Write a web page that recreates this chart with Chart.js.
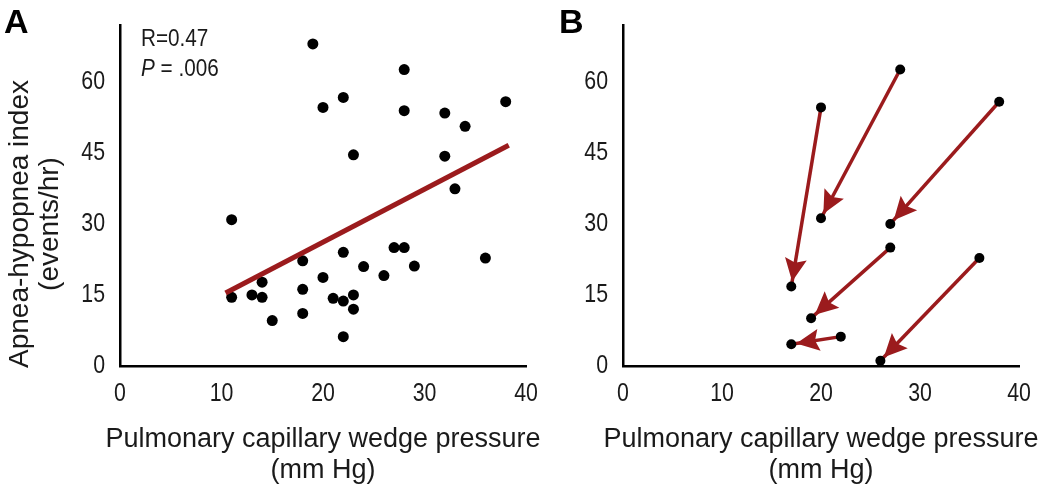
<!doctype html>
<html lang="en">
<head>
  <meta charset="utf-8">
  <title>PCWP vs AHI</title>
  <style type="text/css">
    body {
      margin: 0;
      background: #fff;
    }
    .panel {
      position: absolute;
      top: 0;
      height: 490px;
    }
    #panelA { left: 0; width: 560px; }
    #panelB { left: 525px; width: 525px; }
  </style>
</head>
<body>
  <div id="panelA" class="panel"><canvas id="chart_a" width="560" height="490"></canvas></div>
  <div id="panelB" class="panel"><canvas id="chart_b" width="525" height="490"></canvas></div>

  <script src="https://cdn.jsdelivr.net/npm/chart.js"></script>
  <script>
    // panel A: PCWP (mm Hg) vs apnea-hypopnea index (events/hr)
    const pcwp_a = [19, 28, 22, 20, 28, 38, 32, 34, 23, 32, 33, 11, 36, 22, 27, 28, 18, 24, 29, 26, 20, 14, 18, 11, 13, 14, 21, 22, 23, 23, 18, 15, 22];
    const ahi_a = [68, 62.6, 56.7, 54.6, 53.9, 55.8, 53.4, 50.6, 44.6, 44.3, 37.4, 30.9, 22.8, 24, 25, 25, 22.2, 21, 21.1, 19.1, 18.7, 17.7, 16.2, 14.5, 15, 14.5, 14.3, 13.7, 15, 12, 11.1, 9.6, 6.2];

    // regression line end points
    const fit_x = [10.4, 38.3];
    const fit_y = [15.4, 46.6];

    // panel B: before -> after treatment
    const from_x = [20, 28, 38, 27, 36, 22];
    const from_y = [54.6, 62.6, 55.8, 25, 22.8, 6.2];
    const to_x = [17, 20, 27, 19, 26, 17];
    const to_y = [16.8, 31.2, 30, 10.1, 1.1, 4.6];

    const x_ticks = [0, 10, 20, 30, 40];
    const y_ticks = [0, 15, 30, 45, 60];
    const x_title = ['Pulmonary capillary wedge pressure', '(mm Hg)'];
    const y_title = ['Apnea-hypopnea index', '(events/hr)'];

    const FONT = "'Liberation Sans', Arial, sans-serif";
    const RED = '#9b1b1d';
    const INK = '#1a1a1a';

    // tick digits in the figure use a condensed face; squeeze them horizontally
    function narrowText(ctx, text, x, y, align, size, sx, style) {
      ctx.save();
      ctx.translate(x, y);
      ctx.scale(sx, 1);
      ctx.font = (style ? style + ' ' : '') + size + 'px ' + FONT;
      ctx.textAlign = align;
      ctx.textBaseline = 'middle';
      ctx.fillText(text, 0, 0);
      const w = ctx.measureText(text).width * sx;
      ctx.restore();
      return w;
    }

    function makeScales(yWidth) {
      return {
        x: {
          type: 'linear',
          min: 0,
          max: 40,
          afterFit: function(s) {
            s.height = 124;
            s.paddingLeft = 0;
            s.paddingRight = 0;
          },
          afterBuildTicks: function(s) { s.ticks = x_ticks.map(v => ({ value: v })); },
          grid: { display: false, drawTicks: false },
          border: { display: true, color: '#000', width: 2.5 },
          ticks: { display: false }
        },
        y: {
          type: 'linear',
          min: 0,
          max: 72,
          afterFit: function(s) {
            s.width = yWidth;
            s.paddingTop = 0;
            s.paddingBottom = 0;
          },
          afterBuildTicks: function(s) { s.ticks = y_ticks.map(v => ({ value: v })); },
          grid: { display: false, drawTicks: false },
          border: { display: true, color: '#000', width: 2.5 },
          ticks: { display: false }
        }
      };
    }

    // tick labels and x title, placed from the chart's own scales
    const axisText = {
      id: 'axisText',
      afterDraw: function(chart) {
        const ctx = chart.ctx;
        const xs = chart.scales.x, ys = chart.scales.y;
        const area = chart.chartArea;
        ctx.save();
        ctx.fillStyle = INK;
        y_ticks.forEach(v => narrowText(ctx, String(v), area.left - 15, ys.getPixelForValue(v), 'right', 26, 0.82));
        x_ticks.forEach(v => narrowText(ctx, String(v), xs.getPixelForValue(v), area.bottom + 28, 'center', 26, 0.82));
        const cx = (area.left + area.right) / 2;
        narrowText(ctx, x_title[0], cx, area.bottom + 74, 'center', 27, 1);
        narrowText(ctx, x_title[1], cx, area.bottom + 105, 'center', 27, 1);
        ctx.restore();
      }
    };

    const baseOptions = {
      responsive: false,
      animation: false,
      events: [],
      plugins: { legend: { display: false }, tooltip: { enabled: false } }
    };

    // extra text for panel A
    const panelTextA = {
      id: 'panelTextA',
      afterDraw: function(chart) {
        const ctx = chart.ctx;
        ctx.save();
        ctx.fillStyle = '#000';
        ctx.textBaseline = 'alphabetic';
        ctx.font = "bold 34px " + FONT;
        ctx.fillText('A', 4, 33);

        ctx.fillStyle = INK;
        narrowText(ctx, 'R=0.47', 141, 40, 'left', 23, 0.9);
        const pw = narrowText(ctx, 'P', 141, 70, 'left', 23, 0.9, 'italic');
        narrowText(ctx, ' = .006', 141 + pw, 70, 'left', 23, 0.9);

        // y axis title
        ctx.translate(0, 224);
        ctx.rotate(-Math.PI / 2);
        ctx.textAlign = 'center';
        ctx.textBaseline = 'middle';
        ctx.font = "28px " + FONT;
        ctx.fillText(y_title[0], 0, 20);
        ctx.fillText(y_title[1], 0, 50);
        ctx.restore();
      }
    };

    const chart_a = new Chart(document.getElementById('chart_a'), {
      type: 'scatter',
      data: {
        datasets: [{
          data: fit_x.map((x, i) => ({ x: x, y: fit_y[i] })),
          showLine: true,
          borderColor: RED,
          borderWidth: 5,
          pointRadius: 0
        }, {
          data: pcwp_a.map((x, i) => ({ x: x, y: ahi_a[i] })),
          backgroundColor: '#000',
          borderColor: '#000',
          pointRadius: 5.5,
          borderWidth: 0
        }]
      },
      options: Object.assign({}, baseOptions, {
        layout: { padding: { left: 0, right: 34, top: 25, bottom: 0 } },
        scales: makeScales(120)
      }),
      plugins: [axisText, panelTextA]
    });

    // arrow heads for panel B, drawn right after each arrow line
    const arrowHeads = {
      id: 'arrowHeads',
      afterDatasetDraw: function(chart, args) {
        if (args.index === 0) return;
        const pts = chart.getDatasetMeta(args.index).data;
        const p0 = pts[0], p1 = pts[1];
        const len = Math.hypot(p1.x - p0.x, p1.y - p0.y);
        const ux = (p1.x - p0.x) / len, uy = (p1.y - p0.y) / len;
        const tipX = p1.x - ux * 5, tipY = p1.y - uy * 5;
        const baseX = tipX - ux * 23, baseY = tipY - uy * 23;
        const ctx = chart.ctx;
        ctx.save();
        ctx.fillStyle = RED;
        ctx.beginPath();
        ctx.moveTo(tipX, tipY);
        ctx.lineTo(baseX - uy * 11, baseY + ux * 11);
        ctx.lineTo(baseX + ux * 4, baseY + uy * 4);
        ctx.lineTo(baseX + uy * 11, baseY - ux * 11);
        ctx.closePath();
        ctx.fill();
        ctx.restore();
      },
      afterDraw: function(chart) {
        const ctx = chart.ctx;
        ctx.save();
        ctx.fillStyle = '#000';
        ctx.font = "bold 34px " + FONT;
        ctx.fillText('B', 34, 33);
        ctx.restore();
      }
    };

    const arrow_sets = from_x.map((x, i) => ({
      data: [{ x: x, y: from_y[i] }, { x: to_x[i], y: to_y[i] }],
      showLine: true,
      borderColor: RED,
      borderWidth: 3.5,
      pointRadius: 0
    }));

    const chart_b = new Chart(document.getElementById('chart_b'), {
      type: 'scatter',
      data: {
        datasets: [{
          data: from_x.map((x, i) => ({ x: x, y: from_y[i] }))
            .concat(to_x.map((x, i) => ({ x: x, y: to_y[i] }))),
          backgroundColor: '#000',
          borderColor: '#000',
          pointRadius: 5,
          borderWidth: 0
        }].concat(arrow_sets)
      },
      options: Object.assign({}, baseOptions, {
        layout: { padding: { left: 0, right: 31, top: 25, bottom: 0 } },
        scales: makeScales(98)
      }),
      plugins: [axisText, arrowHeads]
    });
  </script>
</body>
</html>
